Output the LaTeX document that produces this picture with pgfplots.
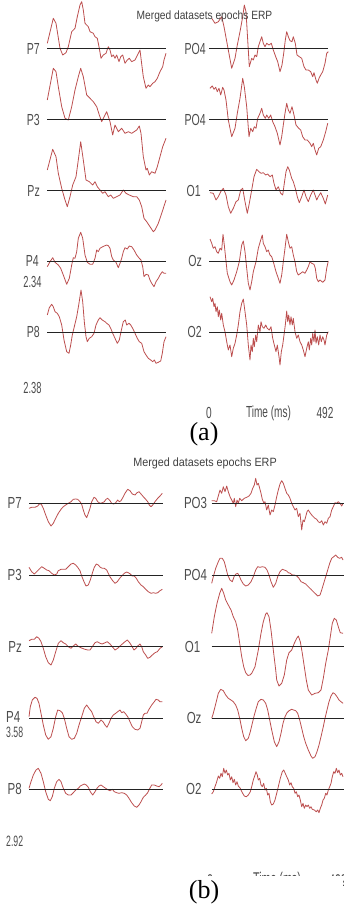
\documentclass[border=0pt]{standalone}
\usepackage{fontspec}
\setmainfont{Liberation Sans}
\newfontfamily\labA[FakeStretch=0.66]{Liberation Sans}
\newfontfamily\labB[FakeStretch=0.72]{Liberation Sans}
\newfontfamily\numf[FakeStretch=0.58]{Liberation Sans}
\newfontfamily\timf[FakeStretch=0.63]{Liberation Sans}
\newfontfamily\ttlA[FakeStretch=0.85]{Liberation Sans}
\newfontfamily\ttlB[FakeStretch=0.9]{Liberation Sans}
\newfontfamily\capf{Liberation Serif}
\usepackage{pgfplots}
\pgfplotsset{compat=1.18}
\definecolor{trcol}{RGB}{188,78,78}
\definecolor{bscol}{RGB}{35,35,35}
\tikzset{trc/.style={color=trcol, line width=0.8pt, line join=round, mark=none},
  bsl/.style={color=bscol, line width=1pt, mark=none}}
\begin{document}
\begin{tikzpicture}
\begin{axis}[at={(0,0)}, anchor=south west, width=343pt, height=909pt, scale only axis, hide axis,
  xmin=0, xmax=343, ymin=0, ymax=909, y dir=reverse, clip=false]
% ================= Panel (a) =================
% P7
\addplot[trc] coordinates {(47.3,43.3)(53.3,18.3)(56,23.3)(60,48.3)(62.7,55)(66,52.7)(68.3,46.7)(71.7,31.7)(75,28.3)(77.3,16.7)(80,5)(81.7,1.7)(83.3,10)(85,23.3)(88.3,26.7)(90,31.7)(93.3,33.3)(95,36.7)(97.3,38.3)(99.3,48.3)(101,58.3)(103.3,55)(106,53.3)(108.3,46.7)(110,50)(111.7,56.7)(113.3,55)(115,58.3)(116.7,55)(119,61.7)(120.7,56.7)(122.7,55)(125,63.3)(127.3,60)(129.3,58.3)(131.7,61.7)(135,60)(138.3,53.3)(140,50)(141,58.3)(143.3,76.7)(146,88.3)(148.3,85)(150,86.7)(152.7,83.3)(155,81.7)(157.3,78.3)(160,71.7)(162.7,66.7)(164,60)(166,53.3)};
% P3
\addplot[trc] coordinates {(47.3,100)(53.3,68.3)(56,71.7)(58.3,86.7)(61.7,106.7)(65,118.3)(68.3,120)(71.7,106.7)(75,90)(78.3,76.7)(80.7,68.3)(83.3,76.7)(86.7,95)(90,98.3)(93.3,101.7)(96.7,106.7)(99.3,115)(101.7,121.7)(105,115)(106.7,111.7)(110,121.7)(112.7,135)(115,125)(118.3,131.7)(121.7,128.3)(125,133.3)(128.3,131.7)(131.7,133.3)(136.7,130)(139.3,126)(141,133.3)(143.3,156.7)(146,170)(147.3,168.3)(149.3,175)(151.7,171.7)(155,173.3)(157.3,166.7)(160,156.7)(162.7,146.7)(166,138.3)};
% Pz
\addplot[trc] coordinates {(47.3,170)(52.7,149.3)(56,156.7)(58.3,173.3)(61.7,188.3)(65,200)(67.3,206.7)(70,196.7)(72.7,185)(76,176.7)(78.3,160)(80.7,141.7)(83.3,160)(86,180)(89.3,181.7)(92.7,185)(95,181.7)(97.3,186.7)(100,190)(102.7,193.3)(105,191.7)(108.3,196.7)(110.7,195)(113.3,198.3)(116.7,196.7)(120,195)(123.3,190)(126,193.3)(129.3,195)(133.3,196.7)(136.7,196.7)(139.3,200)(141.7,206.7)(144,218.3)(146.7,221.7)(150,226.7)(153.3,231.7)(155,230)(158.3,223.3)(161.7,213.3)(166,200)};
% P4
\addplot[trc] coordinates {(47.3,266.7)(50,261.7)(52.7,257.7)(55,262.3)(58.3,265)(60.7,268.3)(63.3,275)(66.7,284.3)(69.3,278.3)(71.7,265)(73.3,257.7)(75,258.3)(76.7,251.7)(78.3,238.3)(80.7,232.3)(82.7,238.3)(85,255)(87.3,262.3)(90,264.3)(92.7,264.3)(95,258.3)(96.7,250)(98.3,251.7)(100,248.3)(102.7,246.7)(105,245.7)(106.7,245)(108.3,245.7)(110,248.3)(111.7,256.7)(113.3,260)(116,262.3)(118.3,267.7)(120,263.3)(121.7,258.3)(123.3,251.7)(125,247.7)(127.3,249)(129.3,246)(131.7,246.7)(134,250)(136.7,255)(139.3,258.3)(141,260)(142.7,266.7)(144,276.7)(146,274.3)(148.3,275)(150,280)(151.7,283.3)(154,286.7)(156,281.7)(158.3,278.3)(160,275)(162.3,271.7)(164,273.3)(166,273.3)};
% P8
\addplot[trc] coordinates {(47.3,315)(49.3,307.7)(51.7,304.3)(53.3,306.7)(55,311.7)(57.3,313.3)(59.3,316.7)(61.7,325)(64,340)(66.7,351.7)(69,353.3)(70.7,345)(72.3,335)(74.3,326.7)(76.7,316.7)(78.7,305)(81,290)(82.7,301.7)(84.3,321.7)(86,336.7)(87.3,341.7)(89.3,338.3)(91.7,336.7)(94,333.3)(96,325)(98.3,320)(100,317.7)(102.3,320)(105,321.7)(106.7,323.3)(109,325)(110.7,328.3)(112.7,333.3)(115,338.3)(117.3,343.3)(119.3,340)(121,331.7)(123.3,321.7)(125.3,320)(126.7,325)(129,323.3)(130.7,325)(132.7,328.3)(135,333.3)(137.3,338.3)(139.3,341.7)(141.7,343.3)(144,351.7)(146,355)(148.3,358.3)(150.7,360)(152.7,361.7)(154.3,360)(156,363.3)(158.3,362.3)(160.7,361)(162.3,353.3)(164,341.7)(166,336.7)};
% PO4 (top)
\addplot[trc] coordinates {(211.7,18.3)(215,23.3)(218.3,21.7)(221.7,16.7)(224,26.7)(228.3,50)(231.7,68.3)(235,58.3)(237.3,45)(240,31.7)(242.7,16.7)(244.3,5)(246,11.7)(247.3,33.3)(249.3,66.7)(251.7,58.3)(253.3,60)(255,55)(256.7,56.7)(258.3,46.7)(260,41.7)(261.7,36.7)(263.3,43.3)(265,46.7)(266.7,43.3)(269,45)(271.3,43.3)(273.3,50)(275.7,56.7)(277.7,61.7)(280,71.7)(282,65)(283.7,53.3)(285.3,40)(286.7,31.7)(288.3,36.7)(290,40.7)(292,41.7)(293.3,36.7)(295.3,43.3)(297,55)(299.3,56.7)(301.7,58.3)(304,66.7)(306,70)(308.3,70)(310.7,71.7)(312.7,76.7)(314,72.7)(316,80)(317.3,83.3)(319,78.3)(320.7,75)(322.7,71.7)(325,63.3)(326.7,53.3)(328.3,51.7)};
% PO4 (second)
\addplot[trc] coordinates {(210,88.3)(212.3,86)(214,89.3)(215.7,87.3)(217.3,91.7)(219,88.3)(220.7,95)(222.7,87.3)(224,90)(226,100)(228.3,120)(231.7,136.7)(235,128.3)(237.3,113.3)(240,98.3)(242.7,78.3)(244.3,86.7)(246.7,106.7)(249,136.7)(250.7,128.3)(252.7,131.7)(254.3,126.7)(256,128.3)(257.7,118.3)(260,113.3)(261.7,108.3)(263.3,115)(265.3,118.3)(266.7,115)(268.7,118.3)(270.7,115)(272.7,121.7)(275,126.7)(277.3,133.3)(280,145)(281.7,136.7)(283.3,125)(285,113.3)(286.7,103.3)(288.3,110)(290,113.3)(292,106.7)(294,115)(296,125)(298.7,128.3)(300.7,130)(302.7,136.7)(305,140)(307.3,140)(310,143.3)(311.7,146.7)(313.3,143.3)(315,150)(316.7,155)(318.7,148.3)(320.7,146.7)(323.3,140)(325.7,131.7)(327.7,123.3)};
% O1
\addplot[trc] coordinates {(210,192.7)(213.3,193.3)(216,200)(218.3,196.7)(220.7,191.7)(223.3,188.3)(226,195)(228.3,206.7)(230.7,213.3)(233.3,208.3)(236,201.7)(238.3,200)(240.7,190)(242.7,188.3)(245,201.7)(247.3,213.3)(249.3,203.3)(251.7,190)(254,176.7)(256.7,169.3)(259,171.7)(261,173.3)(263.3,172.7)(265.7,175)(267.7,174)(270,176.7)(272.3,175)(274,183.3)(276,190)(278.3,186.7)(280.7,193.3)(282.7,195)(284.3,183.3)(286,171.7)(287.7,166.7)(289.3,170)(291.7,178.3)(293.3,181.7)(295.3,188.3)(297.3,196.7)(299.3,202.7)(301.7,196.7)(304,190)(306,196.7)(308.3,201.7)(310.7,195)(313.3,190)(315,195)(316.7,200)(318.3,196.7)(320.7,192.7)(323.3,198.3)(325.3,204)(327.7,195)};
% Oz
\addplot[trc] coordinates {(210,239)(211.7,243.3)(213.3,248.3)(215,246.7)(216.7,251.7)(218.3,253.3)(220,248.3)(221.7,250)(223,234.3)(224.3,245)(225.7,258.3)(227.3,273.3)(230,281.7)(231.7,285)(234,280)(236.7,271.7)(239.3,261.7)(241.7,245)(243.3,241)(245,251.7)(246.7,268.3)(248.3,283.3)(250,290)(251.7,281.7)(253.3,271.7)(256,261.7)(258.3,248.3)(260.7,240)(262.3,235)(263.3,243.3)(265,246.7)(266.7,251.7)(268.3,250)(270,255)(271.7,256.7)(273.3,261.7)(276,271.7)(278.3,278.3)(280,283.3)(281.7,275)(283.3,261.7)(285,248.3)(286.7,234.3)(288.3,241.7)(290,248.3)(291.7,246.7)(293.3,255)(295,261.7)(296.7,271.7)(298.3,275)(300.7,273.3)(302.7,271.7)(305,273.3)(306.7,270)(308.3,266.7)(310,261.7)(311.7,263.3)(314,264.3)(315.3,268.3)(316.7,278.3)(318.3,281.7)(320,280)(322.7,282.3)(325,280)(326.7,268.3)(328.3,261)};
% O2
\addplot[trc] coordinates {(210,296.7)(211.7,301.7)(212.7,298.3)(214,306.7)(215,303.3)(216,311.7)(217.3,306.7)(218.3,316.7)(219.3,310)(220.7,320)(221.7,313.3)(223.3,325)(225,331.7)(226.7,341.7)(228.3,350)(230,345)(231.7,356.7)(233.3,348.3)(235,343.3)(236.7,335)(238.3,325)(240,311.7)(241.7,303.3)(243.3,299)(245,311.7)(246.7,325)(248.3,345)(250,360)(251,345)(252.3,351.7)(253.3,338.3)(254.3,346.7)(255.7,335)(256.7,341.7)(258.3,325)(260,331.7)(261,321.7)(262.3,326.7)(264,328.3)(265.7,325)(267.3,328.3)(269.3,330)(271,326.7)(272.7,338.3)(274.3,345)(276,351.7)(277.3,345)(279,356.7)(280,365)(281.3,351.7)(282.7,345)(284,335)(285.3,325)(286.7,311)(287.7,321.7)(288.7,315)(290,325)(291,316.7)(292.3,325)(293.3,318.3)(295,331.7)(296.7,338.3)(298.3,335)(300,341.7)(301.7,345)(303.3,350)(305,356.7)(306.7,348.3)(308.3,341.7)(309.3,350)(310.7,338.3)(311.7,345)(312.7,333.3)(314,341.7)(315,330)(316,343.3)(317.3,336.7)(318.7,345)(320,335)(321.3,341.7)(322.7,336.7)(324,340)(325,345)(326.7,335)(328.3,331.7)};
% baselines (a)
\addplot[bsl] coordinates {(47.3,49)(166,49)};
\addplot[bsl] coordinates {(47.3,120)(166,120)};
\addplot[bsl] coordinates {(47.3,191)(166,191)};
\addplot[bsl] coordinates {(47.3,261)(166,261)};
\addplot[bsl] coordinates {(47.3,332.3)(166,332.3)};
\addplot[bsl] coordinates {(209.3,49)(328.3,49)};
\addplot[bsl] coordinates {(209.3,120)(328.3,120)};
\addplot[bsl] coordinates {(209.3,191)(328.3,191)};
\addplot[bsl] coordinates {(209.3,261)(328.3,261)};
\addplot[bsl] coordinates {(209.3,332.3)(328.3,332.3)};
% texts (a)
\node[inner sep=0, text=black!75, font=\ttlA\fontsize{12}{12}\selectfont] at (axis cs:204.5,16) {Merged datasets epochs ERP};
\begin{scope}[every node/.style={inner sep=0, anchor=east, text=black!70, font=\labA\fontsize{16}{16}\selectfont}]
\node at (axis cs:40,49) {P7};
\node at (axis cs:40,120) {P3};
\node at (axis cs:40,191) {Pz};
\node at (axis cs:39,261) {P4};
\node at (axis cs:40,332) {P8};
\node at (axis cs:206,49) {PO4};
\node at (axis cs:206,120) {PO4};
\node at (axis cs:201,191) {O1};
\node at (axis cs:202,261) {Oz};
\node at (axis cs:202,332) {O2};
\end{scope}
\begin{scope}[every node/.style={inner sep=0, text=black!70, font=\numf\fontsize{16}{16}\selectfont}]
\node[anchor=east] at (axis cs:41.7,282) {2.34};
\node[anchor=east] at (axis cs:41.7,388.3) {2.38};
\end{scope}
\begin{scope}[every node/.style={inner sep=0, text=black!70, font=\timf\fontsize{16}{16}\selectfont}]
\node at (axis cs:209,413) {0};
\node at (axis cs:268.5,413) {Time (ms)};
\node at (axis cs:325,413) {492};
\end{scope}
\node[inner sep=0, font=\capf\fontsize{26}{26}\selectfont] at (axis cs:204,434) {(a)};
% ================= Panel (b) =================
% P7
\addplot[trc] coordinates {(29,508.3)(31.7,507.3)(35,507.3)(37.7,506)(40,503.3)(41.7,505)(43.3,508.3)(45.7,515)(48.3,521.7)(51,526)(53.3,523.3)(55.7,518.3)(58.3,513.3)(61,509.3)(63.3,506.7)(65.7,505)(68.3,503.3)(71,501.7)(73.3,499.3)(75.7,499)(77.7,499.3)(80,501.7)(81.7,504.3)(83.3,510)(85,515)(86.7,517.7)(88.3,513.3)(90,508.3)(91.7,501.7)(94,497.3)(95.7,498.3)(97.7,501.7)(100,503.3)(102.3,502.7)(104.3,501.7)(106,499.3)(107.7,498.3)(110,500.7)(111.7,503.3)(113.7,504)(115.7,502.7)(117.7,500)(119.3,501.7)(121,500.7)(123.3,496.7)(125,493.3)(127.7,489.3)(130,490.7)(132.3,494)(135,495)(137,492.7)(139,491.7)(141,494)(143.3,496.7)(145.7,499.3)(147.7,501.7)(149.3,505)(151,506.7)(152.7,505)(155,501.7)(157.7,498.3)(160,496)(162.3,493.3)};
% P3
\addplot[trc] coordinates {(29,567.3)(31.7,571.7)(34.3,574)(36.7,571.7)(39,569.3)(41.7,566.7)(44.3,568.3)(46.7,570)(49,570.7)(51.7,573.3)(54.3,575)(56.7,574)(58.3,570.7)(61,569.3)(63.3,569.3)(65.7,569.3)(68.3,566.7)(71,564)(73.3,563.3)(75.7,565)(77.7,567.3)(80,570.7)(81.7,576)(84,581.7)(86,586)(88.3,585)(90.3,580)(92.3,573.3)(94.3,567.3)(96.3,564)(98.3,565)(100.3,567.3)(102.3,568.3)(104.3,568.3)(106.7,570)(108.3,573.3)(110.3,577.3)(112.7,580.7)(115,583.3)(117.3,581.7)(119.7,578.3)(121.7,576)(124.3,573.3)(126.7,572)(128.3,572.7)(130.3,574)(132.3,576)(134.3,576)(136.3,578.3)(138.3,581.7)(141,585)(143.3,586.7)(145.7,589.3)(148.3,591.7)(151,593.3)(153.3,592.7)(155.7,593.3)(157.7,592.7)(160,590.7)(162.3,589.3)};
% Pz
\addplot[trc] coordinates {(29,640.7)(31.7,639.3)(34.3,639.3)(36.7,636.7)(39,638.3)(41,641.7)(43.3,648.3)(45.7,656.7)(48.3,662.7)(51,665)(53.3,660)(55.7,651.7)(58.3,643.3)(61,640.7)(63.3,642.7)(65.7,644)(68.3,646.7)(71,648.3)(73.3,646)(75.7,644)(77.7,646)(80,647.3)(82.3,648.3)(85,649.3)(87.7,650)(90,650)(92.3,646.7)(95,642.7)(97.3,641.7)(100,643.3)(102.3,644)(105,642.7)(107.3,641.7)(110,644)(112.3,646.7)(115,650)(117.7,648.3)(120,646)(122.3,644)(125,641.7)(127.3,640)(129.7,642.7)(131.7,646)(134,650)(136,648.3)(137.7,646)(140,644)(141.7,646.7)(143.3,651.7)(145.7,655)(147.7,658.3)(150,657.3)(152.3,655)(155,652.7)(157.3,651.7)(160,648.3)(162.3,646.7)};
% P4
\addplot[trc] coordinates {(29,716.7)(30.3,706.7)(32.3,700)(35,697.3)(37,698.3)(39,703.3)(41,713.3)(43.3,725)(45.7,735)(48.3,739.3)(51,736.7)(53.3,728.3)(55.7,716.7)(57.7,710)(60,710.7)(62.3,712.7)(64.3,718.3)(66.7,728.3)(69,736.7)(71.7,739.3)(74.3,738.3)(76.7,733.3)(79,725)(81.7,716.7)(84.3,708.3)(86.7,705)(89,708.3)(91.7,711.7)(93.7,716.7)(96,721.7)(98.3,723.3)(101,720)(103,721.7)(105,725)(107,727.3)(109,723.3)(111,718.3)(113.3,715)(115.7,713.3)(117.7,711.7)(120,710)(121.7,712.7)(123.7,711.7)(125.7,714)(127.7,716.7)(130,721.7)(132.3,726.7)(135,729.3)(137.7,730)(140,728.3)(141.7,721.7)(143.3,715)(145,713.3)(147,713.3)(149,709.3)(151.7,705)(154.3,701.7)(156,699.3)(158.3,700)(160,701.7)(162.3,701.7)};
% P8
\addplot[trc] coordinates {(29,788.3)(31,781.7)(33.3,775)(36,770)(38.3,768.3)(41,773.3)(43.3,781.7)(45.7,791.7)(48.3,799.3)(50.3,800.7)(52.3,796.7)(54.3,788.3)(56.7,781.7)(59,779.3)(61,781.7)(63.3,788.3)(65.7,793.3)(68.3,795)(71,795)(73.3,792.7)(75.7,790)(78.3,788.3)(80.3,786)(82.3,785)(84.3,784)(86.3,785)(88.3,787.3)(90.3,791.7)(92.7,795)(95,791.7)(97,788.3)(99,786)(101,785)(103.3,786.7)(105.7,788.3)(108.3,790)(110,790.7)(112.3,789.3)(114.3,791.7)(116.7,792.7)(119,793.3)(121.7,792.7)(124.3,793.3)(126.7,795)(129,798.3)(131.7,802.7)(134.3,806)(136.7,807.3)(139,805)(141,801.7)(143.3,797.3)(145.7,795)(147.7,792.7)(149.3,789.3)(151.7,785)(154.3,785)(156.7,786)(159,786.7)(161,785)(162.3,783.3)};
% PO3
\addplot[trc] coordinates {(211.7,500.7)(214.3,500.7)(216.7,501.7)(218.3,496)(220,490)(221.7,493.3)(223.3,486.7)(225,491.7)(226.7,486)(228.3,491.7)(230,496.7)(231.7,500)(233.3,503.3)(234.3,498.3)(235.7,506.7)(237,500)(238.3,503.3)(239.7,498.3)(241.7,500.7)(244.3,498.3)(246.7,497.3)(249,496)(251,493.3)(252.7,488.3)(254.3,485)(255.7,478.3)(257,485)(258.3,483.3)(259.7,488.3)(261,493.3)(262.3,499.3)(263.7,502.7)(265,501.7)(266.7,510)(268.3,505)(270,515)(271.7,510)(273.3,511.7)(275,505)(276.7,496.7)(278.3,490)(280,484)(281.7,480.7)(283.3,483.3)(285,488.3)(286.7,493.3)(288.3,495)(290,498.3)(291.7,503.3)(293.3,506.7)(295,510)(296.7,508.3)(298.3,516.7)(300,513.3)(301.7,530)(303,520)(304.3,521.7)(305.7,516.7)(307,511.7)(308.3,510)(310,512.7)(311.7,515)(313.3,516.7)(315,518.3)(316.7,519.3)(318.3,521.7)(320,522.7)(321.7,520.7)(323.3,525)(325,521.7)(326.7,523.3)(328.3,518.3)(330,516.7)(331.7,510)(333.3,506.7)(335,502.7)(336.7,503.3)(338.3,501.7)(340,503.3)(341.7,506)(343,503.3)};
% PO4
\addplot[trc] coordinates {(211.7,583.3)(213.3,576.7)(215.7,568.3)(218.3,561.7)(220,558.3)(222.3,558.3)(224.3,561.7)(226,568.3)(227.7,575)(230,580)(232.3,581.7)(234.3,576)(236,574)(237.7,573.3)(239.3,576)(241,580)(243.3,584)(245.7,586)(248.3,585)(251,581.7)(253.3,576.7)(255.7,570)(257.7,566.7)(260,567.3)(262.3,566.7)(265,567.3)(267,570)(269,575)(271,581.7)(273.3,587.3)(275.7,583.3)(277.7,576.7)(280,571.7)(282.3,569.3)(284.3,570)(286.7,571)(288.3,572.7)(290.3,573.3)(292.3,575)(294.3,575)(296.7,576)(299,578.3)(301,581.7)(303.3,582.7)(305.7,584)(308.3,586.7)(311,589.3)(313.3,591.7)(315.7,594)(317.7,596)(320,595)(321.7,590)(323.7,583.3)(325.7,576.7)(327.7,570)(329.7,563.3)(331.7,558.3)(333.7,556.7)(335.7,555)(337.7,557.3)(339.7,558.3)(341.7,557.3)(343,560)};
% O1
\addplot[trc] coordinates {(211.7,633.3)(214.3,616.7)(217,603.3)(219.7,593.3)(221.7,588.3)(223.7,593.3)(225.7,600)(228.3,605)(231,610)(233.3,616.7)(235.7,621.7)(237.7,630)(239.7,643.3)(241.7,656.7)(243.7,666.7)(245.7,672.7)(248,675.5)(250,675)(251.7,673.3)(255,666.7)(258.3,650)(261,633.3)(263.3,621.7)(265.7,614)(267,612.7)(269,616.7)(271,630)(273.3,650)(275.7,670)(276.7,680)(279,686)(281.7,683.3)(284.3,675)(286.7,660)(289,652.7)(291.7,650)(294.3,643.3)(296.7,638.3)(298.3,636)(300.3,641.7)(302.3,653.3)(304.3,666.7)(306.3,680)(308.3,690)(311.7,695)(315,693.3)(318.3,692.7)(321,690)(323.3,678.3)(325.7,663.3)(328.3,650)(330.3,636.7)(332.3,623.3)(334.3,618.3)(336.3,620)(338.3,626.7)(340.3,632.7)(343,633.3)};
% Oz
\addplot[trc] coordinates {(211.7,718.3)(213.3,713.3)(215,706.7)(216.7,700)(218.3,693.3)(220.7,689.3)(223.3,690.7)(225.7,695)(228.3,698.3)(231,700)(233.3,701.7)(235.7,705)(237.7,710)(239.7,718.3)(241.7,728.3)(243.7,736.7)(245.7,740.7)(248.3,738.3)(250.3,731.7)(252.3,723.3)(254.3,715)(256.7,706.7)(258.3,701.7)(261,699.3)(263.3,700)(265.7,703.3)(267.7,710)(269.7,720)(271.7,730)(274.3,741.7)(276.7,746.7)(279,741.7)(281,733.3)(283,723.3)(285,716.7)(287,712.7)(289,710.7)(291.7,709.3)(293.7,710)(295.7,710.7)(297.7,713.3)(299.7,720)(301.7,728.3)(303.7,736.7)(305.7,743.3)(308.3,750)(311,756)(312.7,758.3)(315,756.7)(317,751.7)(319,745)(321,736.7)(323.3,726.7)(325,718.3)(327,710)(329,701.7)(331,696)(333,692.7)(335,694)(337,696.7)(339,700)(341,701.7)(343,703.3)};
% O2
\addplot[trc] coordinates {(211.7,794)(213.3,791.7)(215,786.7)(216.7,781.7)(218.3,776)(219.7,778.3)(221,773.3)(222.3,776.7)(223.7,768.3)(225,773.3)(226.3,770)(227.7,775)(229,773.3)(230.3,780)(231.7,776.7)(233,782.7)(234.3,779.3)(235.7,785)(237,781.7)(238.3,786)(240.3,788.3)(242.3,792.7)(244.3,796)(246.3,796.7)(248.3,795)(250.3,791.7)(251.7,786.7)(253.3,780)(255,775)(256,771.7)(257.3,775)(258.3,780)(259.7,778.3)(261,785)(262.3,786.7)(263.7,783.3)(265,790)(266.3,788.3)(267.7,795)(269,793.3)(270.3,801.7)(271.7,805)(273.3,804)(275,800)(276.7,793.3)(278.3,786.7)(280.3,778.3)(282.3,771.7)(283.7,770)(285,772.7)(286.7,776.7)(288.3,780)(289.7,785)(291,782.7)(292.3,786.7)(293.7,788.3)(295,793.3)(296.3,791.7)(297.7,796.7)(299,795)(300.3,800)(301.7,806.7)(303,803.3)(304.3,808.3)(305.7,805)(307,806.7)(308.3,805)(309.7,808.3)(311,806.7)(312.3,809.3)(314.3,810)(316.3,811.7)(317.7,810)(319,812.7)(320.3,808.3)(321.7,805)(323,800)(324.3,798.3)(325.7,793.3)(327,795)(328.3,790)(329.7,786.7)(331,783.3)(332.3,776.7)(333.7,771.7)(335,773.3)(336.3,768.3)(337.7,772.7)(339,770)(340.3,775)(341.7,773.3)(343,776.7)};
% baselines (b)
\addplot[bsl] coordinates {(29.3,503.3)(163.3,503.3)};
\addplot[bsl] coordinates {(29.3,575)(163.3,575)};
\addplot[bsl] coordinates {(29.3,646.7)(163.3,646.7)};
\addplot[bsl] coordinates {(29.3,718)(163.3,718)};
\addplot[bsl] coordinates {(29.3,789.3)(163.3,789.3)};
\addplot[bsl] coordinates {(211.7,503.3)(345,503.3)};
\addplot[bsl] coordinates {(211.7,575)(345,575)};
\addplot[bsl] coordinates {(211.7,646.7)(345,646.7)};
\addplot[bsl] coordinates {(211.7,718)(345,718)};
\addplot[bsl] coordinates {(211.7,789.3)(345,789.3)};
% texts (b)
\node[inner sep=0, text=black!75, font=\ttlB\fontsize{12}{12}\selectfont] at (axis cs:205,463.5) {Merged datasets epochs ERP};
\begin{scope}[every node/.style={inner sep=0, anchor=east, text=black!70, font=\labB\fontsize{16}{16}\selectfont}]
\node at (axis cs:22,503.3) {P7};
\node at (axis cs:22,575) {P3};
\node at (axis cs:22,646.7) {Pz};
\node at (axis cs:20.5,716.5) {P4};
\node at (axis cs:22,789.3) {P8};
\node at (axis cs:207.3,503.3) {PO3};
\node at (axis cs:207.3,575) {PO4};
\node at (axis cs:200.5,646.7) {O1};
\node at (axis cs:201.7,718) {Oz};
\node at (axis cs:201.7,789.3) {O2};
\end{scope}
\begin{scope}[every node/.style={inner sep=0, anchor=east, text=black!70, font=\numf\fontsize{15}{15}\selectfont}]
\node at (axis cs:23.3,732.7) {3.58};
\node at (axis cs:23.3,841) {2.92};
\end{scope}
\begin{scope}[every node/.style={inner sep=0, text=black!70, font=\timf\fontsize{17}{17}\selectfont}]
\node at (axis cs:210,880.5) {0};
\node at (axis cs:277,880.5) {Time (ms)};
\node at (axis cs:338,880.5) {492};
\end{scope}
\fill[white] (axis cs:0,875.5) rectangle (axis cs:343,909);
\node[inner sep=0, font=\capf\fontsize{26}{26}\selectfont] at (axis cs:204,892.5) {(b)};
\end{axis}
\pgfresetboundingbox
\path[use as bounding box] (0,0) rectangle (343pt,909pt);
\end{tikzpicture}
\end{document}
